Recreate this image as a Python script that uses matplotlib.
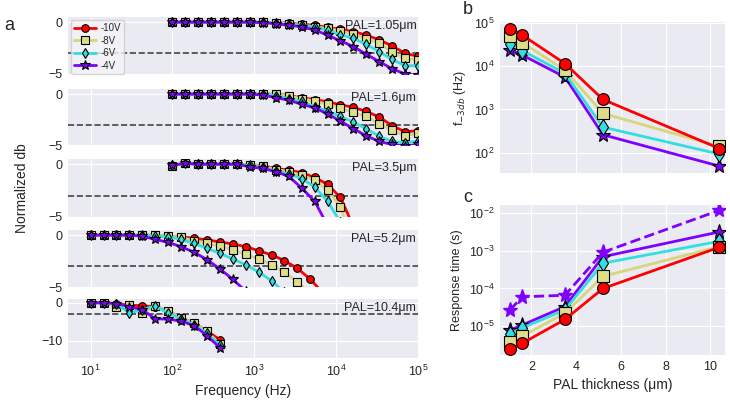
import matplotlib
matplotlib.use("Agg")
import matplotlib.pyplot as plt
import seaborn as sns
from matplotlib.ticker import LogLocator, NullLocator

sns.set_style("darkgrid")
plt.rcParams['font.family'] = ['Liberation Sans', 'DejaVu Sans']
plt.rcParams['mathtext.fontset'] = 'dejavusans'

# ---------------- data ----------------
voltages = ['-10V', '-8V', '-6V', '-4V']
freq_hi = [100, 144, 207, 298, 428, 616, 886, 1274, 1833, 2637, 3793, 5456,
           7848, 11288, 16238, 23357, 33598, 48329, 69519, 100000]
freq_lo = [10, 14.4, 20.7, 29.8, 42.8, 61.6, 88.6, 127.4, 183.3, 263.7, 379.3,
           545.6, 784.8, 1128.8, 1623.8, 2335.7, 3359.8, 4832.9, 6951.9, 10000]

pal_labels = ['PAL=1.05\u03bcm', 'PAL=1.6\u03bcm', 'PAL=3.5\u03bcm', 'PAL=5.2\u03bcm', 'PAL=10.4\u03bcm']

p1_10 = [0, 0, 0, 0, 0, 0, 0, 0, -0.05, -0.1, -0.2, -0.3, -0.5, -0.7, -0.9, -1.25, -1.7, -2.3, -3.0, -3.3]
p1_8 = [0, 0, 0, 0, 0, 0, 0, 0, -0.05, -0.15, -0.3, -0.45, -0.6, -0.85, -1.15, -1.6, -2.05, -2.85, -3.5, -3.65]
p1_6 = [0, 0, 0, 0, 0, 0, 0, 0, -0.1, -0.2, -0.3, -0.45, -0.8, -1.2, -1.55, -2.15, -2.85, -3.6, -4.2, -4.2]
p1_4 = [0, 0, 0, 0, 0, 0, 0, -0.05, -0.15, -0.3, -0.45, -0.75, -1.25, -1.8, -2.35, -3.1, -3.8, -4.5, -5.0, -5.1]

p2_10 = [0, 0, 0, 0, 0, 0, 0, 0, 0, -0.15, -0.35, -0.55, -0.75, -1.05, -1.3, -1.7, -2.25, -3.1, -3.7, -3.6]
p2_8 = [0, 0, 0, 0, 0, 0, 0, 0, 0, -0.2, -0.45, -0.7, -1.0, -1.4, -1.8, -2.2, -2.9, -3.55, -4.1, -3.85]
p2_6 = [0, 0, 0, 0, 0, 0, 0, 0, -0.15, -0.45, -0.7, -1.25, -1.65, -2.2, -2.75, -3.4, -4.15, -4.65, -4.8, -4.6]
p2_4 = [0, 0, 0, 0, 0, 0, 0, -0.1, -0.35, -0.6, -1.0, -1.35, -1.95, -2.65, -3.4, -4.1, -4.65, -4.95, -5.1, -4.95]

p3_10 = [-0.15, 0.1, 0, 0, 0, 0, -0.05, -0.15, -0.4, -0.55, -0.8, -1.25, -1.9, -3.15, -5.9]
p3_8 = [-0.2, 0.1, 0, 0, 0, 0, -0.05, -0.2, -0.5, -0.7, -1.05, -1.5, -2.45, -4.05, -7.5]
p3_6 = [-0.1, 0.1, 0, 0, 0, 0, -0.1, -0.3, -0.65, -0.9, -1.35, -2.15, -3.5, -5.5]
p3_4 = [-0.1, 0.1, 0, 0, 0, 0, -0.25, -0.4, -0.7, -1.15, -2.25, -3.5, -5.8]

p4_10 = [0, 0, 0, 0, 0, 0, -0.1, -0.15, -0.3, -0.45, -0.65, -0.85, -1.1, -1.5, -1.9, -2.45, -3.2, -4.25, -5.6]
p4_8 = [0, 0, 0, 0, 0, 0, -0.05, -0.2, -0.55, -0.8, -1.05, -1.4, -1.85, -2.3, -2.85, -3.6, -4.5, -5.6]
p4_6 = [0, 0, 0, 0, 0, -0.1, -0.15, -0.4, -0.8, -1.25, -1.75, -2.3, -2.85, -3.55, -4.4, -5.5]
p4_4 = [0, 0, 0, 0, -0.1, -0.4, -0.7, -1.1, -1.65, -2.35, -3.25, -4.25, -5.4]

p5_10 = [0, 0, -0.3, -0.6, -0.8, -1.0, -2.1, -3.9, -5.4, -7.4, -9.7]
p5_8 = [0, 0, -1.2, -0.5, -2.7, -0.8, -2.1, -3.9, -5.4, -7.5, -10.9]
p5_6 = [0, 0, -0.3, -2.7, -1.8, -0.8, -2.7, -4.2, -5.8, -8.0, -11.2]
p5_4 = [0, 0, -0.2, -1.0, -1.8, -4.2, -4.3, -4.8, -6.0, -8.6, -11.8]

pal = [1.05, 1.6, 3.5, 5.2, 10.4]
f3db_10 = [7.4e4, 5.2e4, 1.15e4, 1.7e3, 125]
f3db_8 = [4.9e4, 3.5e4, 8.1e3, 8.1e2, 140]
f3db_6 = [3.3e4, 2.3e4, 6.8e3, 3.9e2, 93]
f3db_4 = [2.4e4, 1.8e4, 5.6e3, 2.6e2, 49]

resp_10 = [2.4e-6, 3.5e-6, 1.5e-5, 1.0e-4, 1.25e-3]
resp_8 = [3.8e-6, 5.4e-6, 2.2e-5, 2.1e-4, 1.3e-3]
resp_6 = [6.3e-6, 9.0e-6, 2.7e-5, 4.7e-4, 1.8e-3]
resp_4 = [7.8e-6, 1.07e-5, 3.3e-5, 7.0e-4, 3.2e-3]
resp_4_dash = [2.7e-5, 6.0e-5, 6.6e-5, 9.2e-4, 1.2e-2]

# ---------------- styles ----------------
line_cols = ['#ff0000', '#d6d67c', '#33dede', '#8000ff']
face_cols = ['#ff0000', '#dede8a', '#33dede', '#8000ff']
markers = ['o', 's', 'd', '*']
TXT = '#262626'

W, H = 730, 404
fig = plt.figure(figsize=(W / 100, H / 100), dpi=100)

def px_axes(x0, y0, x1, y1):
    return fig.add_axes([x0 / W, 1 - y1 / H, (x1 - x0) / W, (y1 - y0) / H])

panel_rows = [(17, 74), (89, 145), (159, 217), (230, 287), (299, 358)]
panels = [
    (freq_hi, [p1_10, p1_8, p1_6, p1_4]),
    (freq_hi, [p2_10, p2_8, p2_6, p2_4]),
    (freq_hi, [p3_10, p3_8, p3_6, p3_4]),
    (freq_lo, [p4_10, p4_8, p4_6, p4_4]),
    (freq_lo, [p5_10, p5_8, p5_6, p5_4]),
]

left_axes = []
for k, ((y0, y1), (fr, series)) in enumerate(zip(panel_rows, panels)):
    ax = px_axes(68, y0, 418, y1)
    left_axes.append(ax)
    for j, s in enumerate(series):
        ax.plot(fr[:len(s)], s, color=line_cols[j], lw=2, marker=markers[j],
                ms=7 if markers[j] == '*' else 5.5, mfc=face_cols[j], mec='black',
                mew=0.8, label=voltages[j], zorder=3 + j)
    ax.axhline(-3, color='#444444', ls='--', lw=1.2, zorder=2)
    ax.set_xscale('log')
    ax.set_xlim(5.3, 1e5)
    ax.xaxis.set_major_locator(LogLocator(base=10, numticks=10))
    ax.xaxis.set_minor_locator(NullLocator())
    if k < 4:
        ax.set_ylim(-5, 0.5)
        ax.set_yticks([0, -5])
    else:
        ax.set_ylim(-14.5, 1.0)
        ax.set_yticks([0, -10])
    ax.text(0.995, 0.95, pal_labels[k], transform=ax.transAxes, ha='right', va='top',
            fontsize=9, color=TXT)
    ax.tick_params(axis='both', labelsize=9, colors=TXT, length=0, pad=4)
    if k < 4:
        ax.tick_params(axis='x', labelbottom=False)
    for sp in ax.spines.values():
        sp.set_visible(False)

leg = left_axes[0].legend(loc='upper left', fontsize=7, frameon=True, handlelength=2.2,
                          handletextpad=0.5, borderpad=0.35, labelspacing=0.25,
                          borderaxespad=0.3)
leg.get_frame().set_facecolor('#f4f4f8')
leg.get_frame().set_edgecolor('#cccccc')

left_axes[-1].set_xlabel('Frequency (Hz)', fontsize=10, color=TXT, labelpad=4)
fig.text(22 / W, 1 - 188 / H, 'Normalized db', rotation=90, ha='center', va='center',
         fontsize=10, color=TXT)

# ---------------- right panels ----------------
axb = px_axes(500, 22, 725, 173)
axc = px_axes(500, 205, 725, 355)

b_series = [f3db_10, f3db_8, f3db_6, f3db_4]
c_series = [resp_10, resp_8, resp_6, resp_4]
for j in [3, 2, 1, 0]:
    ms = 11 if markers[j] == '*' else 8.5
    axb.plot(pal, b_series[j], color=line_cols[j], lw=2, marker=markers[j], ms=ms,
             mfc=face_cols[j], mec='black', mew=0.8, zorder=3 + (3 - j))
    axc.plot(pal, c_series[j], color=line_cols[j], lw=2, marker=markers[j], ms=ms,
             mfc=face_cols[j], mec='black', mew=0.8, zorder=3 + (3 - j))
axc.plot(pal, resp_4_dash, color=line_cols[3], lw=2, ls='--', marker='*', ms=11,
         mfc=face_cols[3], mec=face_cols[3], zorder=8)

for ax in (axb, axc):
    ax.set_yscale('log')
    ax.set_xlim(0.6, 10.65)
    ax.set_xticks([2, 4, 6, 8, 10])
    ax.yaxis.set_minor_locator(NullLocator())
    ax.tick_params(axis='both', labelsize=9, colors=TXT, length=0, pad=4)
    for sp in ax.spines.values():
        sp.set_visible(False)

axb.set_ylim(34, 1.05e5)
axb.set_yticks([1e2, 1e3, 1e4, 1e5])
axb.tick_params(axis='x', labelbottom=False)
axb.set_ylabel('f$_{-3db}$ (Hz)', fontsize=9, color=TXT, labelpad=4)

axc.set_ylim(1.7e-6, 1.66e-2)
axc.set_yticks([1e-5, 1e-4, 1e-3, 1e-2])
axc.set_ylabel('Response time (s)', fontsize=9, color=TXT, labelpad=4)
axc.set_xlabel('PAL thickness (\u03bcm)', fontsize=10, color=TXT, labelpad=4)

fig.text(9 / W, 1 - 25 / H, 'a', fontsize=13, ha='center', va='center', color=TXT)
fig.text(468 / W, 1 - 9 / H, 'b', fontsize=13, ha='center', va='center', color=TXT)
fig.text(468 / W, 1 - 197 / H, 'c', fontsize=13, ha='center', va='center', color=TXT)

fig.savefig('out.png', dpi=100)
